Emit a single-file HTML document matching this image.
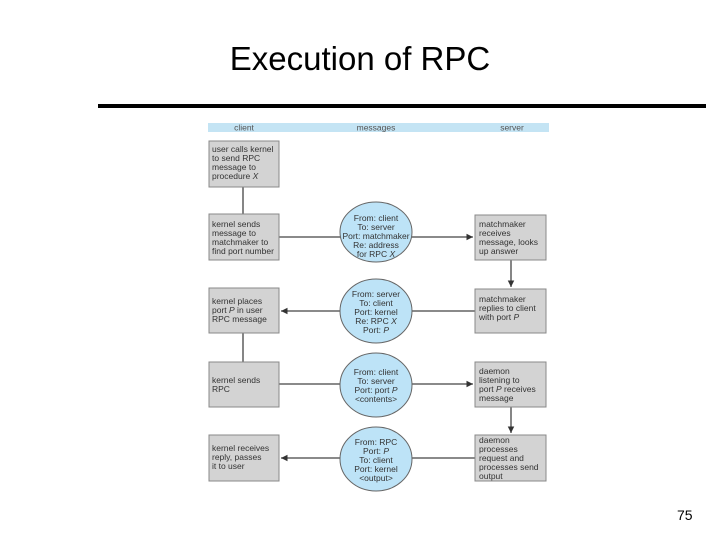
<!DOCTYPE html>
<html><head><style>
body{margin:0;width:720px;height:540px;background:#fff;font-family:"Liberation Sans",sans-serif;position:relative;overflow:hidden}
.t{position:absolute;left:0;width:720px;top:40px;text-align:center;font-size:33px;color:#000}
.ln{position:absolute;left:98px;top:104px;width:608px;height:4px;background:#000}
.n{position:absolute;left:677px;top:507px;font-size:14px}
</style></head><body>
<div class="t">Execution of RPC</div>
<div class="ln"></div>
<svg style="position:absolute;left:0;top:0" width="720" height="540" font-family="Liberation Sans,sans-serif" font-size="8.5" fill="#333">
<defs><marker id="a" markerWidth="6" markerHeight="6" refX="5" refY="3" orient="auto"><path d="M0,0.5 L5,3 L0,5.5z" fill="#333"/></marker></defs>
<rect x="208" y="123" width="341" height="9" fill="#c4e4f4"/>
<g fill="#555" font-size="8.5" text-anchor="middle"><text x="244" y="130.5">client</text><text x="376" y="130.5">messages</text><text x="512" y="130.5">server</text></g>
<g stroke="#444" stroke-width="1.3">
<line x1="243" y1="187" x2="243" y2="214"/>
<line x1="243" y1="333" x2="243" y2="362"/>
<line x1="279" y1="237" x2="473" y2="237" marker-end="url(#a)"/>
<line x1="475" y1="311" x2="281" y2="311" marker-end="url(#a)"/>
<line x1="279" y1="384" x2="473" y2="384" marker-end="url(#a)"/>
<line x1="475" y1="458" x2="281" y2="458" marker-end="url(#a)"/>
<line x1="511" y1="260" x2="511" y2="287" marker-end="url(#a)"/>
<line x1="511" y1="407" x2="511" y2="433" marker-end="url(#a)"/>
</g>
<g fill="#d3d3d3" stroke="#888" stroke-width="1">
<rect x="209" y="141" width="70" height="46"/><rect x="209" y="214" width="70" height="46"/><rect x="209" y="288" width="70" height="45"/><rect x="209" y="362" width="70" height="45"/><rect x="209" y="435" width="70" height="46"/>
<rect x="475" y="215" width="71" height="45"/><rect x="475" y="289" width="71" height="44"/><rect x="475" y="362" width="71" height="45"/><rect x="475" y="435" width="71" height="46"/>
</g>
<g fill="#bde3f7" stroke="#666" stroke-width="1">
<ellipse cx="376" cy="232" rx="36" ry="30"/><ellipse cx="376" cy="311" rx="36" ry="32"/><ellipse cx="376" cy="385" rx="36" ry="32"/><ellipse cx="376" cy="459" rx="36" ry="32"/>
</g>
<g>
<text x="212" y="152">user calls kernel</text><text x="212" y="161">to send RPC</text><text x="212" y="170">message to</text><text x="212" y="179">procedure <tspan font-style="italic">X</tspan></text>
<text x="212" y="227">kernel sends</text><text x="212" y="236">message to</text><text x="212" y="245">matchmaker to</text><text x="212" y="254">find port number</text>
<text x="212" y="304">kernel places</text><text x="212" y="313">port <tspan font-style="italic">P</tspan> in user</text><text x="212" y="322">RPC message</text>
<text x="212" y="383">kernel sends</text><text x="212" y="392">RPC</text>
<text x="212" y="451">kernel receives</text><text x="212" y="460">reply, passes</text><text x="212" y="469">it to user</text>
<text x="479" y="227">matchmaker</text><text x="479" y="236">receives</text><text x="479" y="245">message, looks</text><text x="479" y="254">up answer</text>
<text x="479" y="302">matchmaker</text><text x="479" y="311">replies to client</text><text x="479" y="320">with port <tspan font-style="italic">P</tspan></text>
<text x="479" y="374">daemon</text><text x="479" y="383">listening to</text><text x="479" y="392">port <tspan font-style="italic">P</tspan> receives</text><text x="479" y="401">message</text>
<text x="479" y="443">daemon</text><text x="479" y="452">processes</text><text x="479" y="461">request and</text><text x="479" y="470">processes send</text><text x="479" y="479">output</text>
</g>
<g text-anchor="middle">
<text x="376" y="221">From: client</text><text x="376" y="230">To: server</text><text x="376" y="239">Port: matchmaker</text><text x="376" y="248">Re: address</text><text x="376" y="257">for RPC <tspan font-style="italic">X</tspan></text>
<text x="376" y="297">From: server</text><text x="376" y="306">To: client</text><text x="376" y="315">Port: kernel</text><text x="376" y="324">Re: RPC <tspan font-style="italic">X</tspan></text><text x="376" y="333">Port: <tspan font-style="italic">P</tspan></text>
<text x="376" y="375">From: client</text><text x="376" y="384">To: server</text><text x="376" y="393">Port: port <tspan font-style="italic">P</tspan></text><text x="376" y="402">&lt;contents&gt;</text>
<text x="376" y="445">From: RPC</text><text x="376" y="454">Port: <tspan font-style="italic">P</tspan></text><text x="376" y="463">To: client</text><text x="376" y="472">Port: kernel</text><text x="376" y="481">&lt;output&gt;</text>
</g>
</svg>
<div class="n">75</div>
</body></html>
